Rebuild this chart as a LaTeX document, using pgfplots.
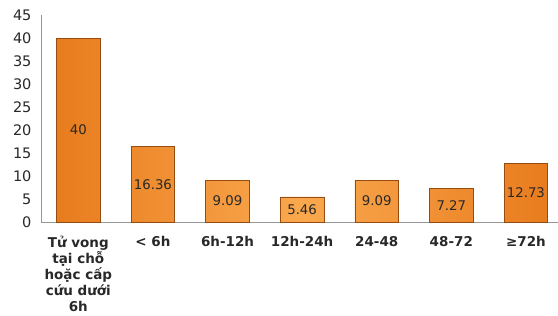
\documentclass[border=0pt]{standalone}
\usepackage{fontspec}
\setmainfont{DejaVu Sans}
\usepackage{pgfplots}
\pgfplotsset{compat=1.18}
\definecolor{barmid}{RGB}{250,168,78}
\definecolor{baredge}{RGB}{232,124,30}
\definecolor{barline}{RGB}{150,75,15}
\definecolor{axgray}{RGB}{150,150,150}
\definecolor{txt}{RGB}{40,40,40}
\begin{document}
\begin{tikzpicture}
\begin{axis}[
  scale only axis,
  width=517pt, height=207pt,
  anchor=south west, at={(0,0)},
  xmin=-0.5, xmax=6.43,
  ymin=0, ymax=45,
  ytick={0,5,...,45},
  xtick={0,1,2,3,4,5,6},
  xticklabels={{Tử vong\\tại chỗ\\hoặc cấp\\cứu dưới\\6h},{< 6h},{6h-12h},{12h-24h},{24-48},{48-72},{≥72h}},
  axis lines*=left,
  axis line style={draw=axgray, line width=0.8pt},
  axis x line*=bottom,
  tick style={draw=none},
  major tick length=0pt,
  /pgf/number format/assume math mode=true,
  yticklabel style={font=\fontsize{14.5}{16}\selectfont, text=txt, xshift=-6pt},
  xticklabel style={font=\fontsize{13.5}{15.8}\selectfont\bfseries, text=txt, align=center, yshift=-11pt, anchor=north},
  clip=false,
]
\addplot[ybar, bar width=43.5pt, draw=barline, line width=0.6pt,
  left color=baredge, right color=baredge, middle color=barmid, bar shift=0pt]
  coordinates {(0,40) (1,16.36) (2,9.09) (3,5.46) (4,9.09) (5,7.27) (6,12.73)};
\addplot[only marks, mark=none, nodes near coords, point meta=explicit symbolic,
  every node near coord/.style={anchor=center, font=\fontsize{13.3}{15}\selectfont, text=txt}]
  table[meta=label] {
x y label
0 20 40
1 8.18 16.36
2 4.545 9.09
3 2.73 5.46
4 4.545 9.09
5 3.635 7.27
6 6.365 12.73
};
\end{axis}
\pgfresetboundingbox
\path[use as bounding box] (-41pt,-94pt) rectangle (517pt,207pt+15pt);
\end{tikzpicture}
\end{document}
